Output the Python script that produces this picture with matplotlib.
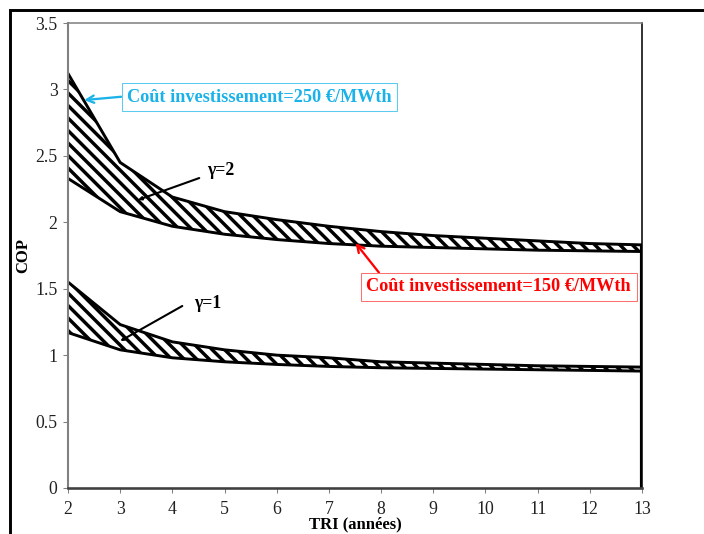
import matplotlib.pyplot as plt
from matplotlib.patches import Rectangle

plt.rcParams['font.family'] = ['Liberation Serif', 'DejaVu Serif']
plt.rcParams['hatch.linewidth'] = 3.3

# TRI (années)
tri = [2, 3, 4, 5, 6, 7, 8, 9, 10, 11, 12, 13]

# gamma = 2 : bande entre les deux coûts d'investissement
cop_g2_haut = [3.12, 2.45, 2.19, 2.08, 2.02, 1.97, 1.93, 1.90, 1.88, 1.86, 1.84, 1.83]
cop_g2_bas = [2.33, 2.08, 1.97, 1.91, 1.87, 1.84, 1.82, 1.81, 1.80, 1.79, 1.785, 1.78]

# gamma = 1
cop_g1_haut = [1.55, 1.23, 1.10, 1.04, 1.00, 0.98, 0.95, 0.94, 0.93, 0.92, 0.915, 0.91]
cop_g1_bas = [1.17, 1.04, 0.98, 0.95, 0.93, 0.915, 0.905, 0.90, 0.895, 0.89, 0.885, 0.88]

y_ticks = [0, 0.5, 1, 1.5, 2, 2.5, 3, 3.5]
y_labels = ['0', '0.5', '1', '1.5', '2', '2.5', '3', '3.5']

bleu = '#1ab2e8'
rouge = '#ff0000'

dpi = 75
fig = plt.figure(figsize=(704 / dpi, 534 / dpi), dpi=dpi)
ax = fig.add_axes([68 / 704, 1 - 488 / 534, (642 - 68) / 704, (488 - 23) / 534])

# cadre extérieur (coupé à droite et en bas)
fig.patches.append(Rectangle((10 / 704, -0.2), 1.5, 1.2 - 10 / 534, transform=fig.transFigure,
                             fill=False, edgecolor='black', linewidth=2.8, clip_on=False))

for haut, bas in [(cop_g2_haut, cop_g2_bas), (cop_g1_haut, cop_g1_bas)]:
    ax.fill_between(tri, bas, haut, facecolor='white', edgecolor='black', hatch='\\\\', linewidth=0)
    ax.plot(tri, haut, color='black', lw=2.8, solid_joinstyle='miter')
    ax.plot(tri, bas, color='black', lw=2.8, solid_joinstyle='miter')

ax.vlines(tri[-1], 0, cop_g2_haut[-1], color='black', lw=4)

ax.set_xlim(2, 13)
ax.set_ylim(0, 3.5)
ax.set_xticks(tri)
ax.set_yticks(y_ticks)
ax.set_yticklabels(y_labels)
ax.tick_params(axis='both', direction='out', length=5, width=1, color='#808080',
               labelsize=17, labelcolor='#222222')
ax.tick_params(axis='x', pad=7)
ax.tick_params(axis='y', pad=5)

ax.spines['left'].set_color('#808080')
ax.spines['left'].set_linewidth(2)
ax.spines['bottom'].set_color('#404040')
ax.spines['bottom'].set_linewidth(2.5)
ax.spines['top'].set_color('#808080')
ax.spines['top'].set_linewidth(1.5)
ax.spines['right'].set_color('black')
ax.spines['right'].set_linewidth(1.5)

ax.set_ylabel('COP', fontsize=16, fontweight='bold', labelpad=4)
ax.set_xlabel('TRI (années)', fontsize=16, fontweight='bold', labelpad=-1)

# annotations coût d'investissement
ax.annotate('Coût investissement=250 €/MWth', xy=(2.31, 2.92), xytext=(5.67, 2.94),
            fontsize=17.5, fontweight='bold', color=bleu, ha='center', va='center',
            bbox=dict(boxstyle='square,pad=0.3', facecolor='white', edgecolor='#5ccbef', lw=1),
            arrowprops=dict(arrowstyle='->', color=bleu, lw=2.2, relpos=(0, 0.57),
                            shrinkA=0, shrinkB=0))
ax.annotate('Coût investissement=150 €/MWth', xy=(7.51, 1.844), xytext=(10.255, 1.513),
            fontsize=17.5, fontweight='bold', color=rouge, ha='center', va='center',
            bbox=dict(boxstyle='square,pad=0.3', facecolor='white', edgecolor='#ff7070', lw=1),
            arrowprops=dict(arrowstyle='->', color=rouge, lw=2.2, relpos=(0.065, 1),
                            shrinkA=0, shrinkB=0))

# étiquettes gamma
ax.text(4.67, 2.39, 'γ=2', fontsize=17, fontweight='bold', ha='left', va='center')
ax.annotate('', xy=(3.34, 2.168), xytext=(4.515, 2.333),
            arrowprops=dict(arrowstyle='-|>,head_length=0.25,head_width=0.12', color='black',
                            lw=2, shrinkA=0, shrinkB=0))
ax.text(4.42, 1.39, 'γ=1', fontsize=17, fontweight='bold', ha='left', va='center')
ax.annotate('', xy=(3.0, 1.106), xytext=(4.19, 1.37),
            arrowprops=dict(arrowstyle='-|>,head_length=0.25,head_width=0.12', color='black',
                            lw=2, shrinkA=0, shrinkB=0))

fig.savefig('out.png', dpi=dpi)
